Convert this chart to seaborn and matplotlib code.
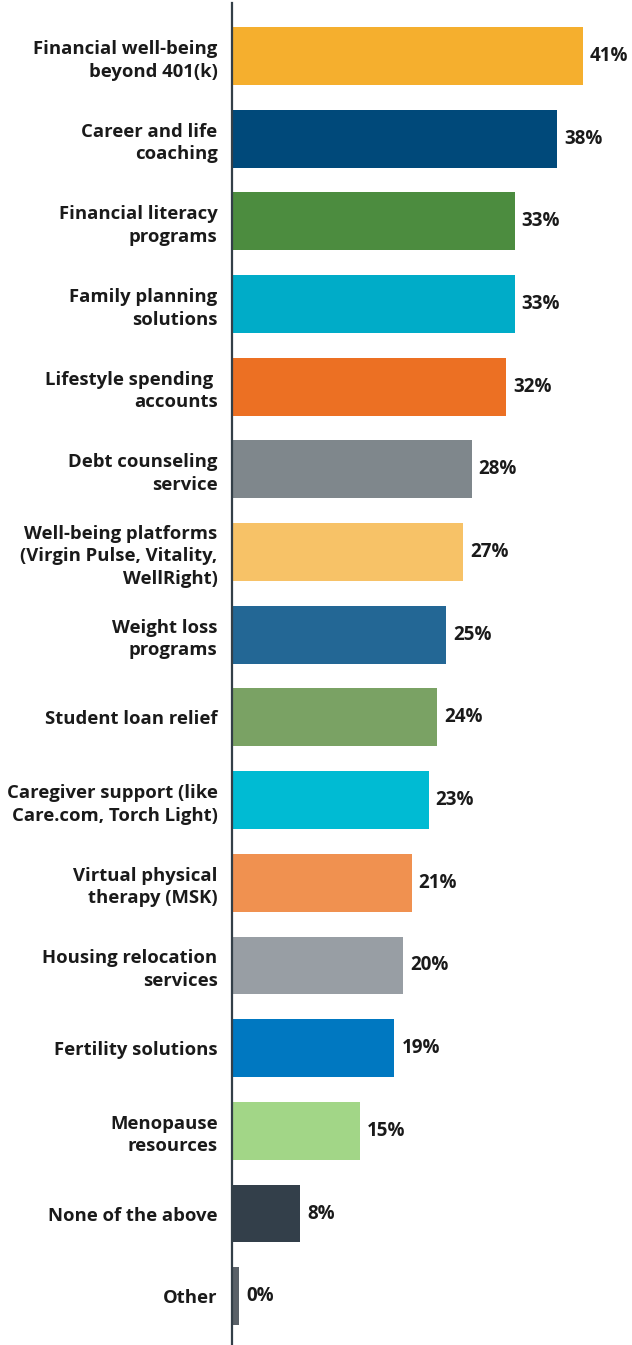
import matplotlib
matplotlib.use("Agg")
import matplotlib.pyplot as plt
import seaborn as sns
import pandas as pd

categories = [
    "Financial well-being\nbeyond 401(k)",
    "Career and life\ncoaching",
    "Financial literacy\nprograms",
    "Family planning\nsolutions",
    "Lifestyle spending \naccounts",
    "Debt counseling\nservice",
    "Well-being platforms\n(Virgin Pulse, Vitality,\nWellRight)",
    "Weight loss\nprograms",
    "Student loan relief",
    "Caregiver support (like\nCare.com, Torch Light)",
    "Virtual physical\ntherapy (MSK)",
    "Housing relocation\nservices",
    "Fertility solutions",
    "Menopause\nresources",
    "None of the above",
    "Other",
]
values = [41, 38, 33, 33, 32, 28, 27, 25, 24, 23, 21, 20, 19, 15, 8, 0.9]
value_labels = ["41%", "38%", "33%", "33%", "32%", "28%", "27%", "25%", "24%",
                "23%", "21%", "20%", "19%", "15%", "8%", "0%"]
colors = ["#F5AF2E", "#00497A", "#4C8C3F", "#00ACC8", "#EC7023", "#7F878C",
          "#F7C267", "#236795", "#7AA264", "#00BBD3", "#F09150", "#989EA4",
          "#0078C1", "#A2D687", "#333F4A", "#5A6168"]

df = pd.DataFrame({"category": categories, "value": values})

sns.set_theme(style="white")
plt.rcParams["font.family"] = ["Open Sans", "DejaVu Sans"]

fig = plt.figure(figsize=(6.32, 13.45), dpi=100)
ax = fig.add_axes([231.5 / 632, 0.0, 1 - 231.5 / 632, (1345 - 3) / 1345])

sns.barplot(data=df, y="category", x="value", hue="category", palette=colors,
            orient="h", width=0.70, linewidth=0, legend=False, ax=ax, saturation=1)

for cont, lab in zip(ax.containers, value_labels):
    ann = ax.bar_label(cont, labels=[lab], padding=5, fontsize=13.5, fontweight="bold",
                       color="#1a1a1a")

ax.set_xlim(0, 46.7)
ax.set_ylim(15.59, -0.64)
ax.set_xlabel("")
ax.set_ylabel("")
ax.set_xticks([])
ax.tick_params(axis="y", length=0, pad=10)
for t in ax.get_yticklabels():
    t.set_fontweight("bold")
    t.set_fontsize(13.3)
    t.set_color("#1a1a1a")
    t.set_linespacing(1.33)
for s in ["top", "right", "bottom"]:
    ax.spines[s].set_visible(False)
ax.spines["left"].set_color("#333F48")
ax.spines["left"].set_linewidth(1.6)

fig.savefig("out.png", dpi=100)
